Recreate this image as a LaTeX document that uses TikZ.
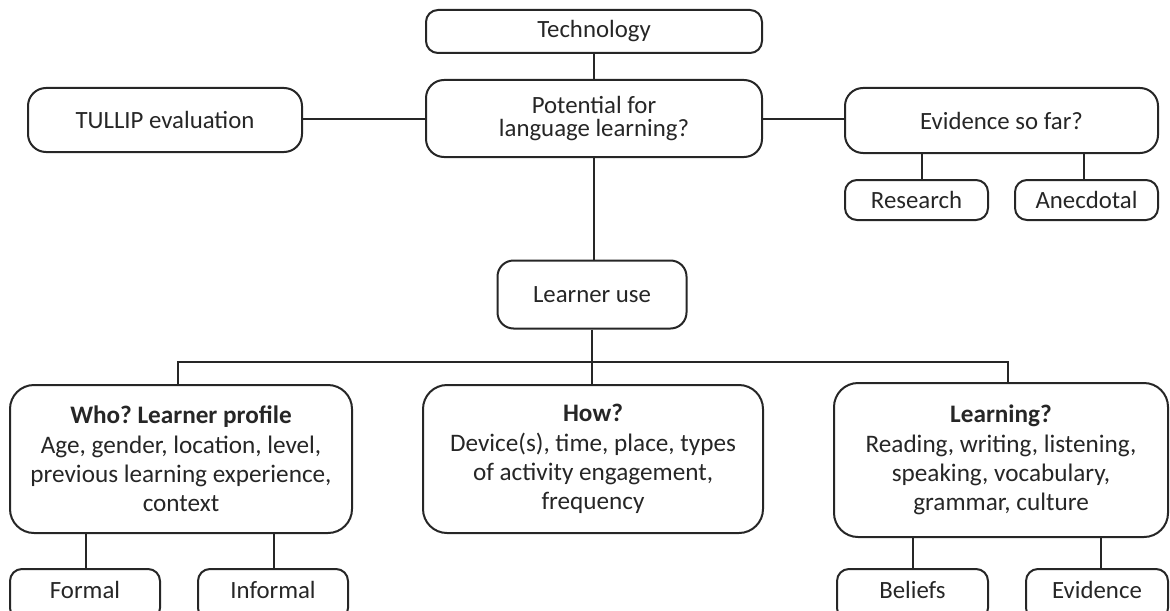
\documentclass[tikz,border=0pt]{standalone}
\usepackage{fontspec}
\setmainfont{Carlito}
\frenchspacing
\begin{document}
\begin{tikzpicture}[x=0.5pt,y=-0.5pt,
  box/.style={draw=black!85, line width=1pt, rounded corners=#1, inner sep=0pt,
    align=center, font=\fontsize{12.4}{12.8}\selectfont, text=black!85},
  box/.default=6pt,
  big/.style={box=12pt, font=\fontsize{12.6}{14.6}\selectfont},
  link/.style={draw=black!85, line width=1pt}]
\useasboundingbox (0,0) rectangle (1170,610);

% top row
\node[box, minimum width=168pt, minimum height=21.5pt] (tech) at (594,31.5) {Technology};
\node[box=9pt, minimum width=168pt, minimum height=38.5pt] (pot) at (594,118.5) {\raisebox{-2pt}{\shortstack{Potential for\\language learning?}}};
\node[box=9pt, minimum width=137pt, minimum height=32pt] (tullip) at (165,120) {TULLIP evaluation};
\node[box=9pt, minimum width=156.5pt, minimum height=32.5pt] (evid) at (1001.5,120.5) {Evidence so far?};
\node[box, minimum width=71.5pt, minimum height=20pt] (research) at (916.5,200) {Research};
\node[box, minimum width=71.5pt, minimum height=20pt] (anec) at (1086.5,200) {Anecdotal};

% middle
\node[box=8pt, minimum width=94.5pt, minimum height=34pt] (learner) at (592,294.5) {Learner use};

% lower row
\node[big, minimum width=171pt, minimum height=74pt] (who) at (181,459)
  {\textbf{Who? Learner profile}\\Age, gender, location, level,\\previous learning experience,\\context};
\node[big, minimum width=170pt, minimum height=74pt] (how) at (593,459)
  {\textbf{How?}\\Device(s), time, place, types\\of activity engagement,\\frequency};
\node[big, minimum width=167pt, minimum height=77pt] (learning) at (1001,460)
  {\textbf{Learning?}\\Reading, writing, listening,\\speaking, vocabulary,\\grammar, culture};

% bottom row (runs past the lower edge)
\node[box, minimum width=75pt, minimum height=25.5pt] (formal) at (85,594.5) {\raisebox{5pt}{Formal}};
\node[box, minimum width=75pt, minimum height=25.5pt] (informal) at (273,594.5) {\raisebox{5pt}{Informal}};
\node[box, minimum width=75.5pt, minimum height=25.5pt] (beliefs) at (912.5,594.5) {\raisebox{5pt}{Beliefs}};
\node[box, minimum width=71pt, minimum height=25.5pt] (evidence) at (1097,594.5) {\raisebox{5pt}{Evidence}};

% connectors
\draw[link] (tech) -- (pot);
\draw[link] (tullip.east |- pot.west) -- (pot.west);
\draw[link] (pot.east) -- (evid.west |- pot.east);
\draw[link] ([xshift=2.75pt]research.north) -- ([xshift=2.75pt]research.north |- evid.south);
\draw[link] ([xshift=-1.25pt]anec.north) -- ([xshift=-1.25pt]anec.north |- evid.south);
\draw[link] (pot.south) -- (pot.south |- learner.north);
\coordinate (busL) at (178,362);
\coordinate (busR) at (1008,362);
\draw[link] (learner.south) -- (learner.south |- how.north);
\draw[link] (busL |- who.north) -- (busL) -- (busR) -- (busR |- learning.north);
\draw[link] ([xshift=0.5pt]formal.north) -- ([xshift=0.5pt]formal.north |- who.south);
\draw[link] ([xshift=0.5pt]informal.north) -- ([xshift=0.5pt]informal.north |- who.south);
\draw[link] (beliefs.north) -- (beliefs.north |- learning.south);
\draw[link] ([xshift=2pt]evidence.north) -- ([xshift=2pt]evidence.north |- learning.south);
\end{tikzpicture}
\end{document}
